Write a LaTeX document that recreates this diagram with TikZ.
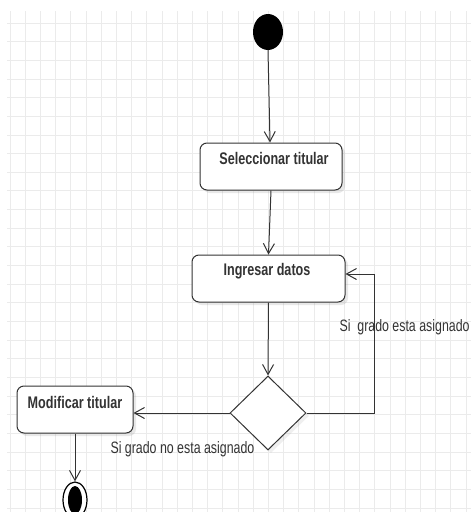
\documentclass[tikz,border=0pt]{standalone}
\usepackage{fontspec}
\setmainfont[FakeStretch=0.75]{Liberation Sans}
\usetikzlibrary{arrows.meta,shapes.geometric,shadows}
\definecolor{ink}{HTML}{333333}
\definecolor{gridc}{HTML}{EBEBEB}
\begin{document}
\begin{tikzpicture}[x=1pt,y=-1pt,
  actbox/.style={draw=ink, line width=1pt, rounded corners=7pt, fill=white,
    minimum width=#1, inner sep=0pt,
    drop shadow={shadow xshift=3pt, shadow yshift=-3pt, opacity=0.18}},
  acttext/.style={font=\fontsize{16.8}{18}\selectfont\bfseries, text=ink},
  lbl/.style={font=\fontsize{16.5}{18}\selectfont, text=ink},
  flow/.style={draw=ink, line width=1pt, -{Straight Barb[length=10pt,width=11pt,line width=1pt]}},
  line/.style={draw=ink, line width=1pt}]
\useasboundingbox (0,0) rectangle (471,512);
\fill[white] (0,0) rectangle (471,512);
% grid
\foreach \i in {0,...,30} { \draw[gridc, line width=0.8pt] ({10+15.2*\i},11) -- ({10+15.2*\i},512); }
\foreach \j in {0,...,26} { \draw[gridc, line width=0.8pt] (7,{23+18.65*\j}) -- (471,{23+18.65*\j}); }
% nodes
\node[ellipse, fill=black, minimum width=30pt, minimum height=36pt, inner sep=0pt] (init) at (268,32) {};
\node[actbox=142pt, minimum height=47pt] (sel) at (271,166.5) {};
\node[acttext, anchor=center] (selt) at (274,158) {Seleccionar titular};
\node[actbox=153pt, minimum height=47pt] (ing) at (268.5,278.5) {};
\node[acttext, anchor=center] (ingt) at (267,271) {Ingresar datos};
\node[diamond, draw=ink, line width=1pt, fill=white, minimum width=76pt, minimum height=74pt, inner sep=0pt, aspect=1.03,
  drop shadow={shadow xshift=3pt, shadow yshift=-3pt, opacity=0.12}] (dec) at (268,413) {};
\node[actbox=116pt, minimum height=47pt] (mod) at (75,409.5) {};
\node[acttext, anchor=center] (modt) at (75,402) {Modificar titular};
\node[ellipse, draw=black, line width=1.2pt, fill=white, minimum width=24pt, minimum height=36pt, inner sep=0pt] (fin) at (75,500) {};
\node[ellipse, fill=black, minimum width=14pt, minimum height=28pt, inner sep=0pt] (finin) at (75,500) {};
% connectors
\draw[flow] (init.south) -- (sel.north -| 270,0);
\draw[flow] (sel.south) -- (ing.north);
\draw[flow] (ing.south) -- (dec.north);
\coordinate (lr) at (374,413);
\coordinate (lt) at (374,274);
\draw[line] (dec.east) -- (lr) -- (lt);
\draw[flow] (lt) -- (ing.east |- lt);
\draw[flow] (dec.west) -- (mod.east |- dec.west);
\draw[flow] (mod.south) -- (fin.north);
% labels
\node[lbl, anchor=west] (l1) at (336,327) {Si\ \ grado esta asignado};
\node[lbl, anchor=west] (l2) at (107,449) {Si grado no esta asignado};
\end{tikzpicture}
\end{document}
